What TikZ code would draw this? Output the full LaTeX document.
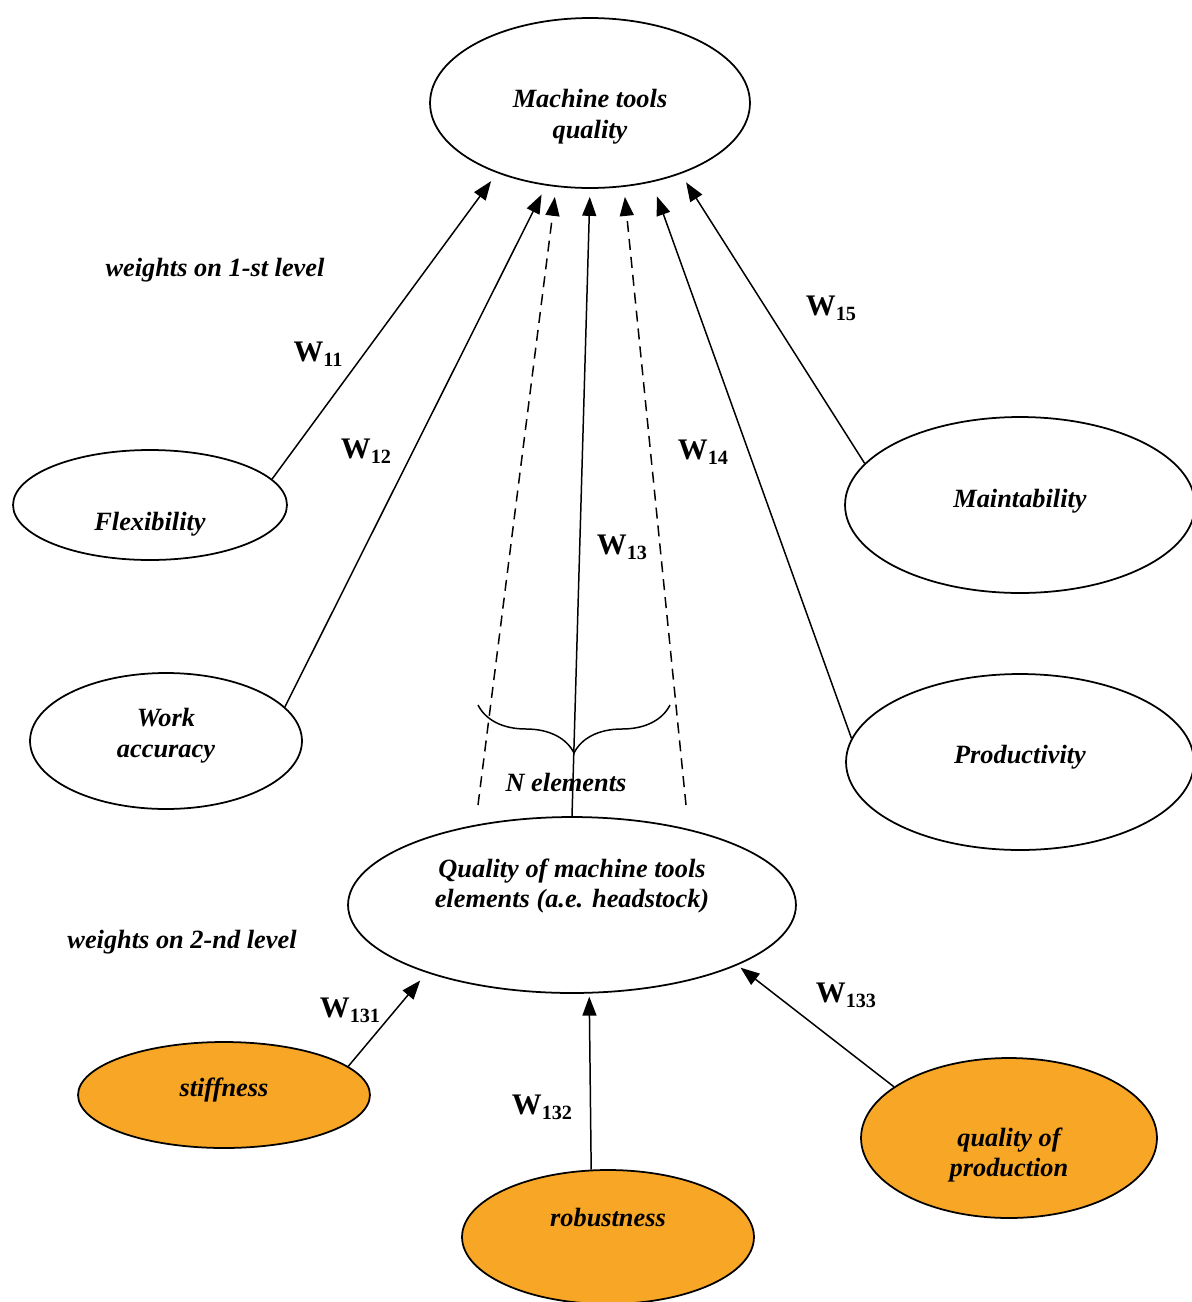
\documentclass[tikz,border=0pt]{standalone}
\usepackage{fontspec}
\setmainfont{Liberation Serif}
\usetikzlibrary{arrows.meta,shapes.geometric,decorations.pathreplacing}
\definecolor{ovalorange}{RGB}{247,166,38}
\newcommand{\wlab}[1]{{\fontsize{17}{20}\selectfont W}\raisebox{-3pt}{\fontsize{11.5}{14}\selectfont #1}}
\tikzset{
  oval/.style={draw,ellipse,inner sep=0pt,line width=1pt},
  txt/.style={font=\fontsize{15}{17.6}\selectfont\bfseries\itshape,align=center},
  wtxt/.style={font=\bfseries,inner sep=0pt},
  link/.style={-{Triangle[length=0.38cm,width=0.28cm]},line width=0.85pt,shorten >=0.2cm},
  dlink/.style={link,dash pattern=on 0.22cm off 0.14cm},
}
\begin{document}
\begin{tikzpicture}[x=0.02cm,y=-0.02cm]
  \useasboundingbox (0,0) rectangle (1192,1302);
  % first level
  \node[oval,minimum width=6.4cm,minimum height=3.4cm,label={[txt,yshift=-0.28cm]center:{Machine tools\\quality}}] (top) at (590,103) {};
  \node[oval,minimum width=5.48cm,minimum height=2.2cm,label={[txt,yshift=-0.38cm]center:Flexibility}] (flex) at (150,505) {};
  \node[oval,minimum width=5.44cm,minimum height=2.72cm,label={[txt,yshift=0.1cm]center:{Work\\accuracy}}] (work) at (166,741) {};
  \node[oval,minimum width=7cm,minimum height=3.52cm,label={[txt,yshift=0.08cm]center:Maintability}] (maint) at (1020,505) {};
  \node[oval,minimum width=6.96cm,minimum height=3.52cm,label={[txt,yshift=0.1cm]center:Productivity}] (prod) at (1020,762) {};
  \node[oval,minimum width=8.96cm,minimum height=3.52cm,label={[txt,yshift=0.38cm]center:{Quality of machine tools\\elements (a.e. headstock)}}] (qual) at (572,905) {};
  % second level
  \node[oval,fill=ovalorange,minimum width=5.84cm,minimum height=2.12cm,label={[txt,yshift=0.1cm]center:stiffness}] (stiff) at (224,1095) {};
  \node[oval,fill=ovalorange,minimum width=5.84cm,minimum height=2.68cm,label={[txt,yshift=0.4cm]center:robustness}] (rob) at (608,1237) {};
  \node[oval,fill=ovalorange,minimum width=5.92cm,minimum height=3.2cm,label={[txt,yshift=-0.34cm]center:{quality of\\production}}] (qprod) at (1009,1138) {};

  \node[txt] (lev1) at (215,270) {weights on 1-st level};
  \node[txt] (lev2) at (182,942) {weights on 2-nd level};
  \node[txt] (nel) at (566,782) {N elements};

  \node[wtxt] (w11) at (318,354) {\wlab{11}};
  \node[wtxt] (w12) at (366,451) {\wlab{12}};
  \node[wtxt] (w13) at (622,547) {\wlab{13}};
  \node[wtxt] (w14) at (703,452) {\wlab{14}};
  \node[wtxt] (w15) at (831,308) {\wlab{15}};
  \node[wtxt] (w131) at (350,1010) {\wlab{131}};
  \node[wtxt] (w132) at (542,1107) {\wlab{132}};
  \node[wtxt] (w133) at (846,995) {\wlab{133}};

  \coordinate (dl) at (478,805); \coordinate (dr) at (686,805);
  \coordinate (bl) at (478,705); \coordinate (br) at (670,705);

  \draw[link] (flex.12.5) -- (top.217);
  \draw[link] (work.16.6) -- (top.242);
  \draw[dlink] (dl) -- (top.248);
  \draw[link,shorten >=0.16cm] (qual.north) -- (top.270);
  \draw[dlink] (dr) -- (top.292);
  \draw[link,shorten >=0.3cm] (prod.172.7) -- (top.308.5);
  \draw[link] (maint.165.8) -- (top.322.8);
  \draw[decorate,decoration={brace,amplitude=0.96cm},line width=0.85pt] (br) -- (bl);

  \draw[link] (stiff.13) -- (qual.205);
  \draw[link,shorten >=0.06cm] (rob.104) -- (qual.281.5);
  \draw[link,shorten >=0.08cm] (qprod.156.9) -- (qual.340.2);
\end{tikzpicture}
\end{document}
